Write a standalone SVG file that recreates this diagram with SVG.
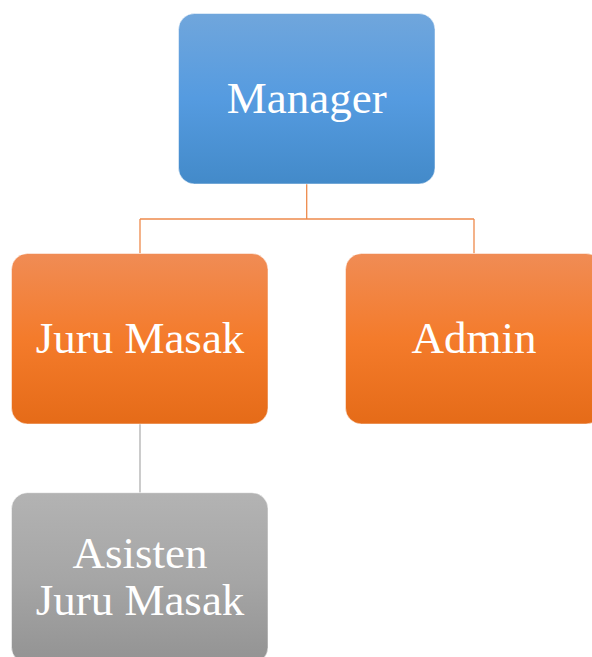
<svg xmlns="http://www.w3.org/2000/svg" width="592" height="657" viewBox="0 0 592 657">
<defs>
<linearGradient id="gBlue" x1="0" y1="0" x2="0" y2="1">
<stop offset="0" stop-color="#70a6dc"/>
<stop offset="0.5" stop-color="#559be0"/>
<stop offset="1" stop-color="#438ac9"/>
</linearGradient>
<linearGradient id="gOrange" x1="0" y1="0" x2="0" y2="1">
<stop offset="0" stop-color="#f08c55"/>
<stop offset="0.5" stop-color="#f47b2b"/>
<stop offset="1" stop-color="#e56b18"/>
</linearGradient>
<linearGradient id="gGray" x1="0" y1="0" x2="0" y2="1">
<stop offset="0" stop-color="#b3b3b3"/>
<stop offset="0.5" stop-color="#a6a6a6"/>
<stop offset="1" stop-color="#939393"/>
</linearGradient>
</defs>
<style>
.box{stroke:#ffffff;stroke-opacity:0.5;stroke-width:1}
.lbl{font-family:"Liberation Serif","Times New Roman",serif;font-size:45px;fill:#ffffff;text-anchor:middle}
.co{fill:none;stroke:#ee8a4c;stroke-width:1.3}
.cg{fill:none;stroke:#b0b0b0;stroke-width:1.3}
</style>
<rect width="592" height="657" fill="#ffffff"/>
<g id="connectors">
<path class="co" d="M306.7 184 V219 M140 219 H474 M140 219 V253.5 M474 219 V253.5"/>
<path class="cg" d="M140 424 V492.7"/>
</g>
<g id="manager">
<rect class="box" x="178.5" y="13.5" width="256.5" height="170.5" rx="16" fill="url(#gBlue)"/>
<text class="lbl" x="306.7" y="112.7">Manager</text>
</g>
<g id="juru-masak">
<rect class="box" x="11.5" y="253.5" width="256.5" height="170.5" rx="16" fill="url(#gOrange)"/>
<text class="lbl" x="140" y="352.7">Juru Masak</text>
</g>
<g id="admin">
<rect class="box" x="345.5" y="253.5" width="256.5" height="170.5" rx="16" fill="url(#gOrange)"/>
<text class="lbl" x="474" y="352.7">Admin</text>
</g>
<g id="asisten">
<rect class="box" x="11.5" y="492.7" width="256.5" height="170.5" rx="16" fill="url(#gGray)"/>
<text class="lbl" x="140" y="568"><tspan x="140">Asisten</tspan><tspan x="140" y="615">Juru Masak</tspan></text>
</g>
</svg>
